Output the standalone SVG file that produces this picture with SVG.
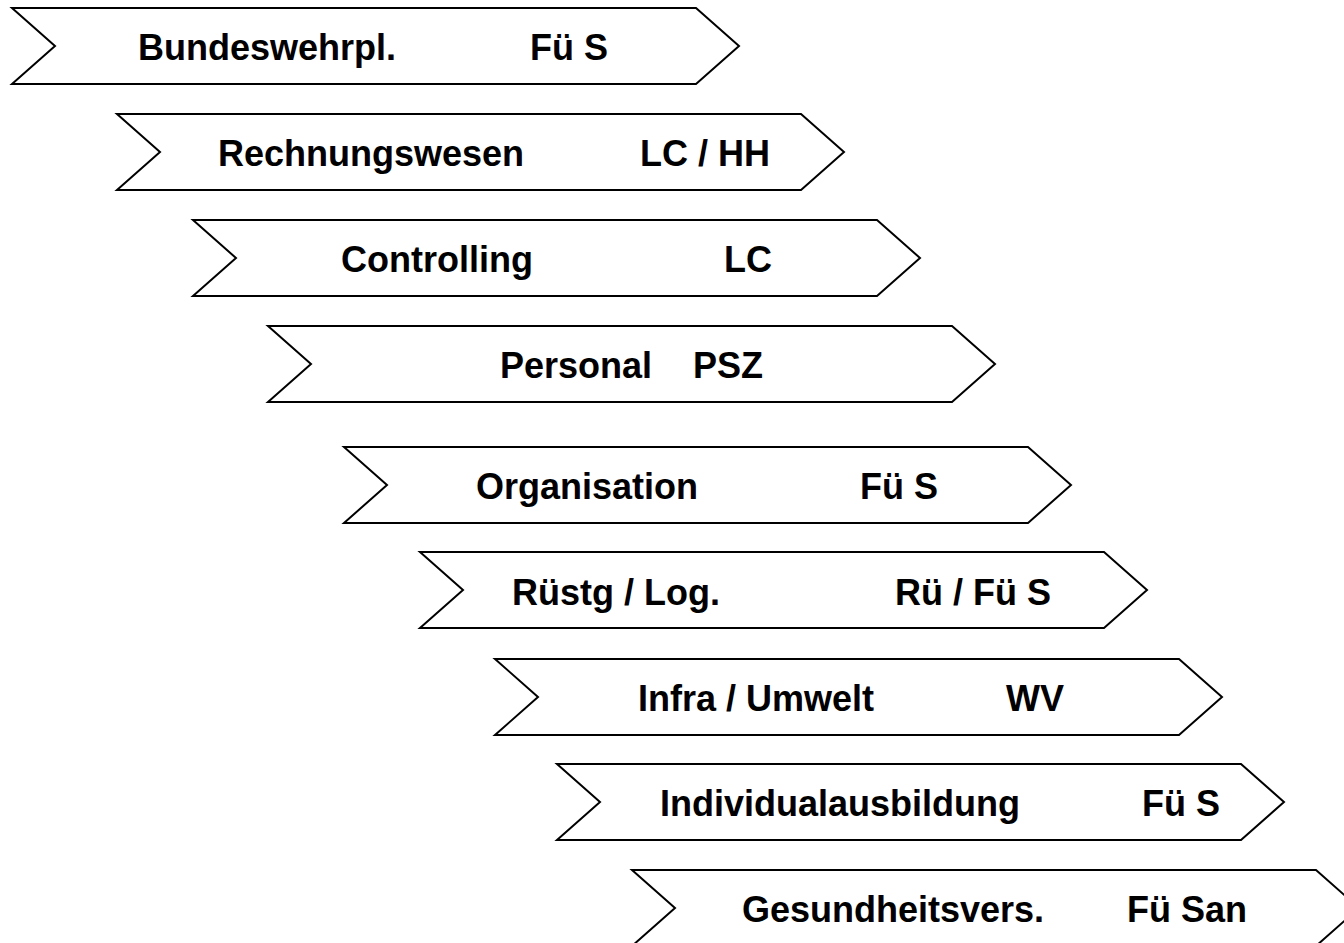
<svg xmlns="http://www.w3.org/2000/svg" width="1344" height="943" viewBox="0 0 1344 943">
<defs>
<style>
.chev{fill:#fff;stroke:#000;stroke-width:2;stroke-linejoin:miter}
.t{font-family:"Liberation Sans",Arial,sans-serif;font-weight:bold;font-size:36px;fill:#000}
</style>
<polygon id="shape" class="chev" points="0,-38 684,-38 727,0 684,38 0,38 43,0"/>
</defs>
<rect width="1344" height="943" fill="#fff"/>
<g id="connectors"></g>
<g id="n1"><use href="#shape" x="12" y="46"/><text class="t" x="138" y="60">Bundeswehrpl.</text><text class="t" x="530" y="60">Fü S</text></g>
<g id="n2"><use href="#shape" x="117" y="152"/><text class="t" x="218" y="166">Rechnungswesen</text><text class="t" x="640" y="166">LC / HH</text></g>
<g id="n3"><use href="#shape" x="193" y="258"/><text class="t" x="341" y="272">Controlling</text><text class="t" x="724" y="272">LC</text></g>
<g id="n4"><use href="#shape" x="268" y="364"/><text class="t" x="500" y="378">Personal</text><text class="t" x="693" y="378">PSZ</text></g>
<g id="n5"><use href="#shape" x="344" y="485"/><text class="t" x="476" y="499">Organisation</text><text class="t" x="860" y="499">Fü S</text></g>
<g id="n6"><use href="#shape" x="420" y="590"/><text class="t" x="512" y="605">Rüstg / Log.</text><text class="t" x="895" y="605">Rü / Fü S</text></g>
<g id="n7"><use href="#shape" x="495" y="697"/><text class="t" x="638" y="711">Infra / Umwelt</text><text class="t" x="1006" y="711">WV</text></g>
<g id="n8"><use href="#shape" x="557" y="802"/><text class="t" x="660" y="816">Individualausbildung</text><text class="t" x="1142" y="816">Fü S</text></g>
<g id="n9"><use href="#shape" x="632" y="908"/><text class="t" x="742" y="922">Gesundheitsvers.</text><text class="t" x="1127" y="922">Fü San</text></g>
</svg>
